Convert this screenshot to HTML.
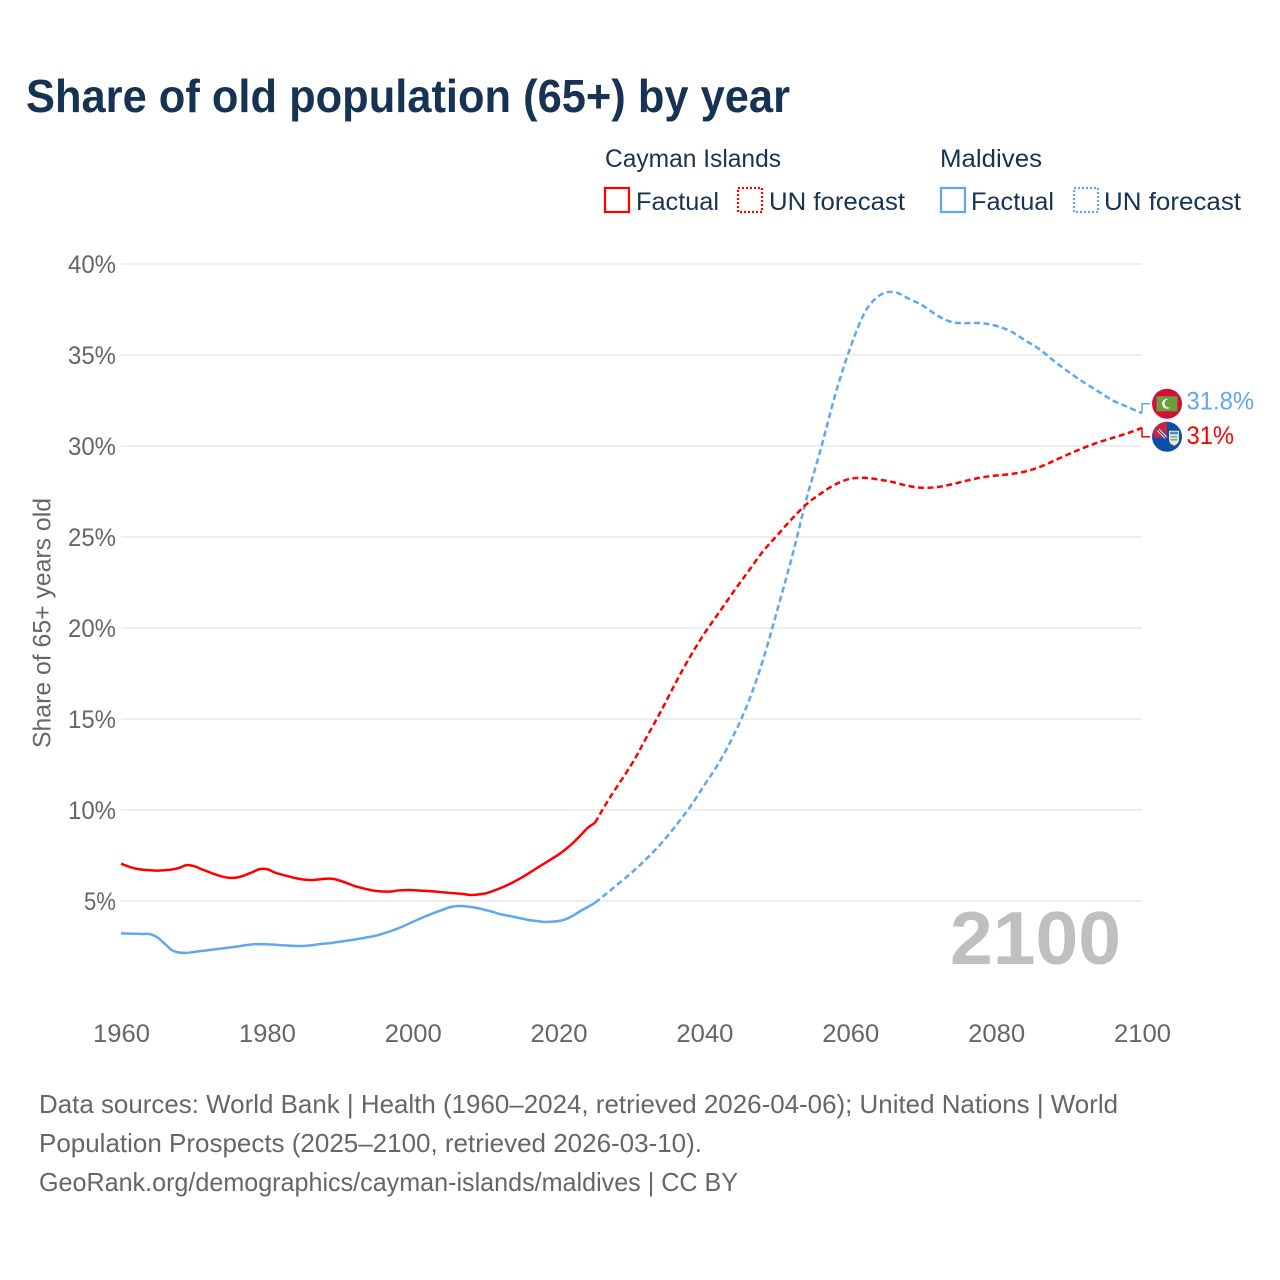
<!DOCTYPE html>
<html lang="en">
<head>
<meta charset="utf-8">
<title>Share of old population (65+) by year</title>
<style>
html,body{margin:0;padding:0;background:#fff;}
svg{display:block;}
text{font-family:"Liberation Sans",sans-serif;}
</style>
</head>
<body>
<svg id="chart" xmlns="http://www.w3.org/2000/svg" width="1280" height="1280" viewBox="0 0 1280 1280">
  <rect width="1280" height="1280" fill="#fff"/>
  <text x="26" y="112" font-size="46" font-weight="700" fill="#173353" textLength="764" lengthAdjust="spacingAndGlyphs">Share of old population (65+) by year</text>

  <g font-size="25" fill="#173353">
    <text x="605" y="167" textLength="176" lengthAdjust="spacingAndGlyphs">Cayman Islands</text>
    <rect x="605" y="188" width="24" height="24" fill="none" stroke="#ff0000" stroke-width="2.2"/>
    <text x="636" y="210" textLength="83" lengthAdjust="spacingAndGlyphs">Factual</text>
    <rect x="738" y="188" width="24" height="24" fill="none" stroke="#ff0000" stroke-width="2.2" stroke-dasharray="2 2"/>
    <text x="769" y="210" textLength="136" lengthAdjust="spacingAndGlyphs">UN forecast</text>
    <text x="940" y="167" textLength="102" lengthAdjust="spacingAndGlyphs">Maldives</text>
    <rect x="941" y="188" width="24" height="24" fill="none" stroke="#5fa8ef" stroke-width="2.2"/>
    <text x="971" y="210" textLength="83" lengthAdjust="spacingAndGlyphs">Factual</text>
    <rect x="1074" y="188" width="24" height="24" fill="none" stroke="#5fa8ef" stroke-width="2.2" stroke-dasharray="2 2"/>
    <text x="1104" y="210" textLength="137" lengthAdjust="spacingAndGlyphs">UN forecast</text>
  </g>

  <g id="grid"></g>
  <g id="yticks" font-size="25" fill="#666"></g>
  <g id="xticks" font-size="25" fill="#666"></g>
  <text transform="translate(50.5,748) rotate(-90)" font-size="25" fill="#666" textLength="250" lengthAdjust="spacingAndGlyphs">Share of 65+ years old</text>
  <text x="950" y="964" font-size="75" font-weight="700" fill="#bfbfbf" textLength="171" lengthAdjust="spacingAndGlyphs">2100</text>
  <g id="series"></g>
  <g id="endmarks"></g>

  <g font-size="26" fill="#666">
    <text x="39" y="1113" textLength="1079" lengthAdjust="spacingAndGlyphs">Data sources: World Bank | Health (1960–2024, retrieved 2026-04-06); United Nations | World</text>
    <text x="39" y="1152" textLength="663" lengthAdjust="spacingAndGlyphs">Population Prospects (2025–2100, retrieved 2026-03-10).</text>
    <text x="39" y="1191" textLength="699" lengthAdjust="spacingAndGlyphs">GeoRank.org/demographics/cayman-islands/maldives | CC BY</text>
  </g>
</svg>
<script>
const yTickValues = [5, 10, 15, 20, 25, 30, 35, 40];
const xTickValues = [1960, 1980, 2000, 2020, 2040, 2060, 2080, 2100];

const factualYears = [1960,1961,1962,1963,1964,1965,1966,1967,1968,1969,1970,1971,1972,1973,1974,1975,1976,1977,1978,1979,1980,1981,1982,1983,1984,1985,1986,1987,1988,1989,1990,1991,1992,1993,1994,1995,1996,1997,1998,1999,2000,2001,2002,2003,2004,2005,2006,2007,2008,2009,2010,2011,2012,2013,2014,2015,2016,2017,2018,2019,2020,2021,2022,2023,2024,2025];
const caymanFactual = [7.05,6.9,6.78,6.72,6.69,6.67,6.69,6.73,6.82,6.97,6.92,6.75,6.6,6.45,6.33,6.27,6.3,6.42,6.58,6.75,6.75,6.58,6.45,6.35,6.25,6.18,6.15,6.18,6.22,6.22,6.12,5.98,5.83,5.72,5.62,5.55,5.52,5.52,5.58,5.6,5.6,5.57,5.55,5.52,5.48,5.45,5.42,5.38,5.33,5.36,5.42,5.55,5.7,5.88,6.08,6.3,6.55,6.8,7.05,7.3,7.55,7.85,8.2,8.6,9.02,9.3];
const maldivesFactual = [3.22,3.21,3.2,3.19,3.18,3.0,2.65,2.3,2.17,2.15,2.2,2.25,2.3,2.35,2.4,2.45,2.5,2.57,2.62,2.63,2.62,2.6,2.57,2.55,2.53,2.53,2.56,2.62,2.66,2.7,2.76,2.82,2.88,2.95,3.02,3.1,3.22,3.35,3.5,3.67,3.85,4.03,4.2,4.36,4.5,4.65,4.72,4.72,4.67,4.6,4.5,4.4,4.28,4.2,4.12,4.03,3.95,3.9,3.85,3.86,3.9,4.0,4.2,4.45,4.67,4.9];

const forecastYears = [2025,2027,2030,2032,2034,2036,2038,2040,2042,2044,2046,2048,2050,2052,2054,2056,2058,2060,2062,2064,2066,2068,2070,2072,2074,2076,2078,2080,2082,2084,2086,2088,2090,2092,2094,2096,2098,2100];
const caymanForecast = [9.3,10.66,12.5,13.95,15.4,16.95,18.4,19.7,20.85,22.0,23.1,24.2,25.1,26.0,26.8,27.4,27.9,28.2,28.25,28.15,28.0,27.8,27.7,27.75,27.9,28.1,28.27,28.38,28.46,28.6,28.85,29.2,29.56,29.9,30.2,30.45,30.7,31.0];
const maldivesForecast = [4.9,5.55,6.55,7.3,8.13,9.1,10.15,11.37,12.6,14.1,15.9,18.2,21.0,23.9,27.1,29.9,32.9,35.4,37.35,38.27,38.46,38.1,37.7,37.15,36.8,36.75,36.75,36.6,36.3,35.8,35.3,34.65,34.05,33.5,33.0,32.5,32.15,31.8];

const endValueCayman = 31;
const endValueMaldives = 31.8;

const NS = 'http://www.w3.org/2000/svg';
const xScale = year => 121 + (year - 1960) * (1142 - 121) / 140;
const yScale = value => 992 - value * 18.2;
const RED = '#ff0000';
const BLUE = '#5fa8ef';

function make(tag, attrs, parent, textValue) {
  const el = document.createElementNS(NS, tag);
  for (const k in attrs) el.setAttribute(k, attrs[k]);
  if (textValue !== undefined) el.textContent = textValue;
  parent.appendChild(el);
  return el;
}

function smoothPath(years, values) {
  const p = years.map((yr, i) => [xScale(yr), yScale(values[i])]);
  let d = 'M' + p[0][0].toFixed(2) + ' ' + p[0][1].toFixed(2);
  for (let i = 0; i < p.length - 1; i++) {
    const a = p[Math.max(0, i - 1)], b = p[i], c = p[i + 1], e = p[Math.min(p.length - 1, i + 2)];
    const c1x = b[0] + (c[0] - a[0]) / 6, c1y = b[1] + (c[1] - a[1]) / 6;
    const c2x = c[0] - (e[0] - b[0]) / 6, c2y = c[1] - (e[1] - b[1]) / 6;
    d += 'C' + [c1x, c1y, c2x, c2y, c[0], c[1]].map(n => n.toFixed(2)).join(' ');
  }
  return d;
}

const grid = document.getElementById('grid');
const yticks = document.getElementById('yticks');
const xticks = document.getElementById('xticks');
const series = document.getElementById('series');
const endmarks = document.getElementById('endmarks');

yTickValues.forEach(v => {
  const line = make('line', {x1: 121, x2: 1142, y1: yScale(v), y2: yScale(v), stroke: '#e8e8e8', 'stroke-width': 1.5}, grid);
  
  
  const label = make('text', {x: 116 - (v < 10 ? 32 : 48), y: yScale(v) + 9, textLength: v < 10 ? 32 : 48, lengthAdjust: 'spacingAndGlyphs'}, yticks, v + '%');
  
  
});

xTickValues.forEach(v => {
  const label = make('text', {x: xScale(v) - 28, y: 1042, textLength: 57, lengthAdjust: 'spacingAndGlyphs'}, xticks, String(v));
  
  
});

function drawLine(years, values, color, dashed) {
  const attrs = {d: smoothPath(years, values), fill: 'none', stroke: color, 'stroke-width': 2.5, 'stroke-linejoin': 'round'};
  if (dashed) attrs['stroke-dasharray'] = '6 3.5';
  return make('path', attrs, series);
}

const l1 = drawLine(factualYears, maldivesFactual, BLUE, false);


const l2 = drawLine(forecastYears, maldivesForecast, BLUE, true);


const l3 = drawLine(factualYears, caymanFactual, RED, false);


const l4 = drawLine(forecastYears, caymanForecast, RED, true);



const xEnd = xScale(2100);
const yMal = yScale(endValueMaldives);
const yCay = yScale(endValueCayman);

const c1 = make('path', {d: 'M' + xEnd + ' ' + yMal + 'V' + (yMal - 9.5) + 'H1150', fill: 'none', stroke: BLUE, 'stroke-width': 1.5}, endmarks);


const c2 = make('path', {d: 'M' + xEnd + ' ' + yCay + 'V' + (yCay + 9) + 'H1150', fill: 'none', stroke: RED, 'stroke-width': 1.5}, endmarks);



const yFlagM = yMal - 9.5;
const mFlag = make('g', {transform: 'translate(1167,' + yFlagM + ')'}, endmarks);


make('circle', {r: 15, fill: '#d21034'}, mFlag);
make('rect', {x: -10.5, y: -7.5, width: 21, height: 15, fill: '#6a9e3f'}, mFlag);
make('circle', {cx: 0, cy: 0, r: 5, fill: '#fff'}, mFlag);
make('circle', {cx: 2, cy: -0.5, r: 4.4, fill: '#6a9e3f'}, mFlag);

const yFlagC = yCay + 9;
const cFlag = make('g', {transform: 'translate(1167,' + yFlagC + ')'}, endmarks);


make('circle', {r: 15, fill: '#0b4fa8'}, cFlag);
make('path', {d: 'M0 -15A15 15 0 0 0 -14 -5.4L-13.2 1H0Z', fill: '#c8253f'}, cFlag);
make('path', {d: 'M-9 -7L-1 1', stroke: '#fff', 'stroke-width': 3, fill: 'none'}, cFlag);
make('path', {d: 'M-10 -8L-1 1', stroke: '#1f3f8f', 'stroke-width': 1.2, fill: 'none'}, cFlag);
make('path', {d: 'M2 -6H12V3Q12 7 7 9Q2 7 2 3Z', fill: '#f3e7b0'}, cFlag);
make('rect', {x: 3, y: -5, width: 8, height: 2.5, fill: '#3f8fd0'}, cFlag);
make('path', {d: 'M3.5 0H10.5M3.5 3H10.5', stroke: '#3f8fd0', 'stroke-width': 1.2}, cFlag);

const t1 = make('text', {x: 1186.5, y: yFlagM + 6, 'font-size': 25, fill: BLUE, textLength: 67.5, lengthAdjust: 'spacingAndGlyphs'}, endmarks, endValueMaldives + '%');


const t2 = make('text', {x: 1186.5, y: yFlagC + 7, 'font-size': 25, fill: RED, textLength: 47.5, lengthAdjust: 'spacingAndGlyphs'}, endmarks, endValueCayman + '%');


</script>
</body>
</html>
